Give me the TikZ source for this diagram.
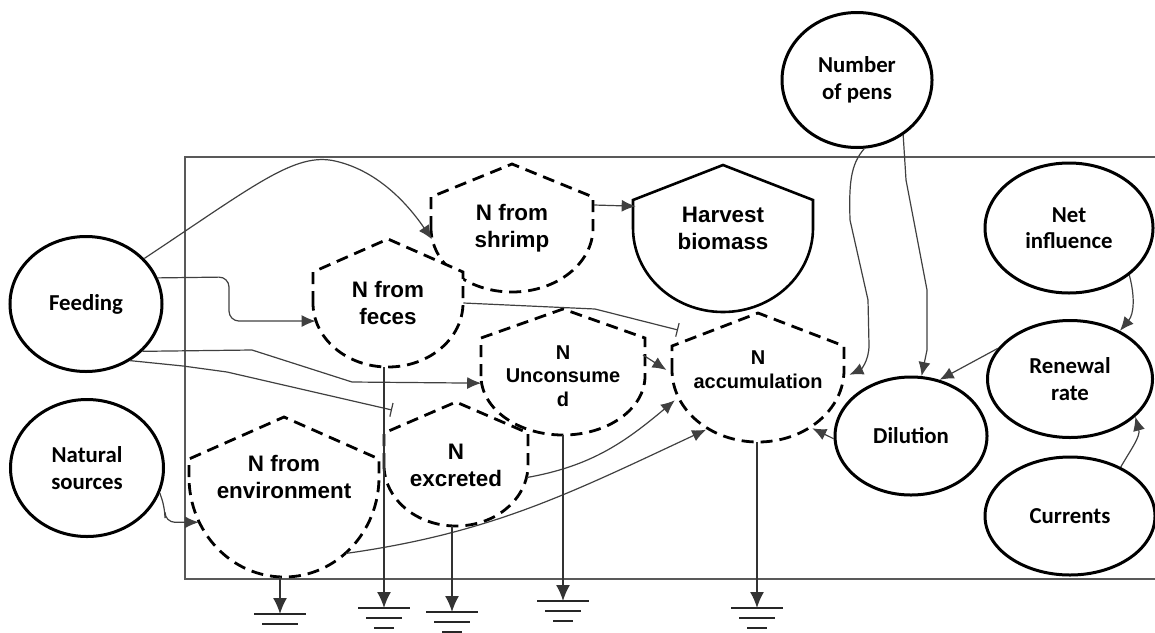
\documentclass[tikz,border=0pt]{standalone}
\usepackage{fontspec}
\newfontfamily\calfont{Carlito}
\newfontfamily\arialfont{Liberation Sans}
\usepackage{tikz}
\usetikzlibrary{shapes.geometric, arrows.meta}
\tikzset{
  >={Latex[length=7pt,width=6pt]}, % filled heads
  box/.style={draw=black!65, line width=1.2pt},
  var/.style={ellipse, draw, line width=1.5pt, fill=white, align=center, inner sep=0pt,
    font=\calfont\bfseries\fontsize{11.4}{13.3}\selectfont},
  stock/.style={ellipse, inner sep=0pt, align=center,
    font=\arialfont\bfseries\fontsize{11.2}{13.5}\selectfont},
  stock small/.style={stock, font=\arialfont\bfseries\fontsize{10}{11.8}\selectfont},
  harvest/.style={stock},
  stock line/.style={draw, line width=1.4pt, dash pattern=on 6pt off 3.5pt, fill=white},
  stock small line/.style={stock line},
  harvest line/.style={draw, line width=1.3pt, fill=white},
  flow/.style={->, draw=black!75, line width=0.6pt},
  sink/.style={-{Latex[length=8pt,width=7pt]}, draw=black!80, line width=0.8pt},
  earth/.style={draw=black!85, line width=1.4pt}
}
% roof on top, half ellipse below: kind, name, x, y, half width, depth, side, roof, text
\newcommand\stocknode[9]{%
  \draw[#1 line] (#3-#5,#4) -- (#3-#5,#4-#7) -- (#3,#4-#7-#8) -- (#3+#5,#4-#7) -- (#3+#5,#4)
    arc[start angle=0, end angle=180, x radius=#5, y radius=#6] -- cycle;
  \node[#1, minimum width=#5pt, minimum height=#6pt] (#2) at (#3,#4) {#9};
}
% ground symbol, top bar at the coordinate
\newcommand\ground[3]{%
  \coordinate (#1) at (#2,#3);
  \draw[earth] ([xshift=-13pt]#1) -- ([xshift=13pt]#1)
    ([xshift=-9pt,yshift=-5pt]#1) -- ([xshift=9pt,yshift=-5pt]#1)
    ([xshift=-5pt,yshift=-10pt]#1) -- ([xshift=5pt,yshift=-10pt]#1);
}

\begin{document}
\begin{tikzpicture}[x=0.5pt, y=-0.5pt]
\useasboundingbox (0,0) rectangle (1155,632);

% system boundary
\draw[box] (1155,157) -- (185,157) -- (185,579) -- (1155,579);

% -------- drivers --------
\node[var, minimum width=76pt, minimum height=67.5pt] (feeding) at (86,304) {Feeding};
\node[var, minimum width=76.5pt, minimum height=68.5pt] (natural) at (87,468) {Natural\\sources};
\node[var, minimum width=75pt, minimum height=67.5pt] (pens) at (857,80) {Number\\of pens};
\node[var, minimum width=84pt, minimum height=65pt] (netinf) at (1069,228) {Net\\influence};
\node[var, minimum width=82.5pt, minimum height=58.5pt] (renewal) at (1070,379) {Renewal\\rate};
\node[var, minimum width=76pt, minimum height=59pt] (dilution) at (911,436) {Dilution};
\node[var, minimum width=85pt, minimum height=59pt] (currents) at (1070,516) {Currents};

% -------- nitrogen pools --------
\stocknode{stock}{shrimp}{512}{228}{81}{64}{31}{33}{N from\\shrimp}
\stocknode{harvest}{harvest}{723}{228}{90}{84}{28}{35}{Harvest\\biomass}
\stocknode{stock}{feces}{388}{303}{75}{64}{31}{33}{N from\\feces}
\stocknode{stock small}{uncons}{563}{376}{82}{59}{38}{29}{N\\Unconsume\\d}
\stocknode{stock small}{accum}{758}{370}{86}{72}{24}{33}{N\\accumulation}
\stocknode{stock}{excr}{456}{465}{72}{61}{32}{31}{N\\excreted}
\stocknode{stock}{env}{284}{477}{95}{100}{18}{42}{N from\\environment}

% -------- sinks --------
\ground{genv}{280}{614}
\ground{gfeces}{384}{608}
\ground{gexcr}{452}{612}
\ground{guncons}{563}{601}
\ground{gaccum}{757}{608}

% Connections from feeding
\draw[flow] (feeding.38) .. controls (255,185) and (295,152) .. (335,161)
  .. controls (375,170) and (405,200) .. (shrimp.188);
\draw[flow, rounded corners=5pt] (feeding.20) -- (229,277) |- (feces.194);
\draw[flow] (feeding.-40) -- (252,350) -- (352,382) -- (uncons.185);
\draw[flow, -{Bar[width=7pt]}] (feeding.-52) -- (183,366) -- (227,372) -- ([shift={(-64,-55)}]excr.center);

% Flows between pools
\draw[flow, -{Bar[width=7pt]}] (feces.east) -- (595,309) -- ([shift={(-80,-40)}]accum.center);
\draw[flow] ([shift={(80,-21)}]uncons.center) -- (accum.west);
\draw[flow] (excr.-10) to[out=10,in=220] (accum.200);
\draw[flow] (env.-51) to[out=8,in=205] (accum.229);
\draw[flow, rounded corners=5pt] (natural.-19) -- (165,508) |- (env.208);
\draw[flow] ([shift={(82,-23)}]shrimp.center) -- (harvest.166);

% Exchange with the outside
\draw[flow] (pens.-84) .. controls (850,165) and (849,185) .. (850,220) -- (868,300) -- (869,345)
  .. controls (869,362) and (860,370) .. (accum.-3);
\draw[flow] (pens.-50) -- (906,180) -- (927,290) -- (927,350) -- (dilution.80);
\draw[flow] (renewal.157) -- (dilution.63);
\draw[flow] (netinf.-38) to[out=-75,in=50] (renewal.44);
\draw[flow] (currents.44) to[out=60,in=-75] (renewal.-30);
\draw[flow] (dilution.182) -- (accum.-47);

% Losses
\draw[sink] (env.south -| genv) -- (genv);
\draw[sink] (feces.south -| gfeces) -- (gfeces);
\draw[sink] (excr.south -| gexcr) -- (gexcr);
\draw[sink] (uncons.south) -- (guncons);
\draw[sink] (accum.south -| gaccum) -- (gaccum);

\end{tikzpicture}
\end{document}
